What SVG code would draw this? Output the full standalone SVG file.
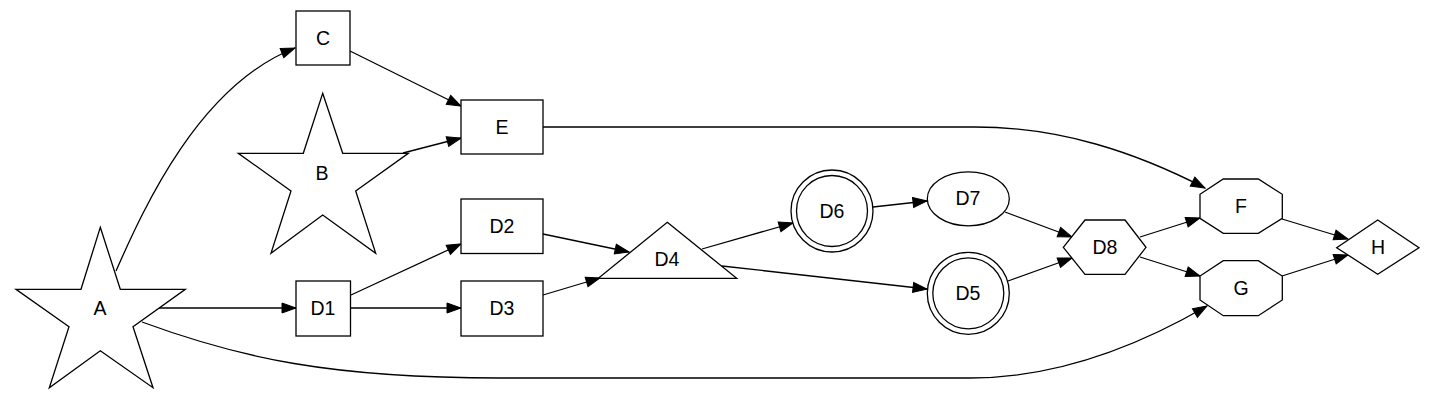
<svg xmlns="http://www.w3.org/2000/svg" width="1436" height="404" viewBox="0 0 1436 404">
<style>
.n{fill:#fff;stroke:#000;stroke-width:1.3}
.t{font-family:"Liberation Sans",Arial,sans-serif;font-size:19.5px;text-anchor:middle;dominant-baseline:central;fill:#000}
.e{fill:none;stroke:#000;stroke-width:1.3;marker-end:url(#ah)}
</style>
<defs>
<marker id="ah" markerUnits="userSpaceOnUse" markerWidth="14" markerHeight="10" refX="14" refY="5" orient="auto" overflow="visible">
<path d="M0,0 L14,5 L0,10 z" fill="#000" stroke="#000" stroke-width="1"/>
</marker>
</defs>
<rect width="1436" height="404" fill="#fff"/>
<g id="edges">
<path class="e" d="M116,271 C145,205 200,85 295,48"/>
<path class="e" d="M350,51 L461,106"/>
<path class="e" d="M403,153 L461,138"/>
<path class="e" d="M543,127 L975,127 C1060,127 1135,152 1205,188"/>
<path class="e" d="M142,322 C240,358 330,378 500,378 L970,378 C1060,378 1140,345 1207,306"/>
<path class="e" d="M158,308 L296,308"/>
<path class="e" d="M351,308 L461,308"/>
<path class="e" d="M351,295 L461,244"/>
<path class="e" d="M543,234 L629,252"/>
<path class="e" d="M543,295 L600,278"/>
<path class="e" d="M702,249 L793,223"/>
<path class="e" d="M722,266 L927,289"/>
<path class="e" d="M873,207 L927,201"/>
<path class="e" d="M1005,212 L1072,237"/>
<path class="e" d="M1008,281 L1072,258"/>
<path class="e" d="M1140,237 L1200,218"/>
<path class="e" d="M1140,257 L1200,276"/>
<path class="e" d="M1282,219 L1348,239"/>
<path class="e" d="M1282,276 L1348,255"/>
</g>
<g id="A"><polygon class="n" points="100.3,227.3 120.3,289.3 185.3,289.3 133,326.7 153,387.7 100.3,350.7 49.3,387.7 69,326.7 16,289.3 81,289.3"/><text class="t" x="100" y="308">A</text></g>
<g id="B"><polygon class="n" points="322.7,93.3 342.7,153.3 408.3,153.3 355.7,191 375.7,253.3 322.7,215 271,253.3 291,191 238.3,153.3 303.3,153.3"/><text class="t" x="322" y="173">B</text></g>
<g id="C"><rect class="n" x="296" y="11" width="54" height="54"/><text class="t" x="323" y="38">C</text></g>
<g id="E"><rect class="n" x="461" y="100" width="82" height="54"/><text class="t" x="502" y="127">E</text></g>
<g id="D1"><rect class="n" x="296" y="281" width="54.5" height="55"/><text class="t" x="323" y="308">D1</text></g>
<g id="D2"><rect class="n" x="461" y="199" width="82" height="54.5"/><text class="t" x="502" y="226">D2</text></g>
<g id="D3"><rect class="n" x="461" y="281" width="82" height="55"/><text class="t" x="502" y="308">D3</text></g>
<g id="D4"><polygon class="n" points="667.3,222.3 736.7,278.3 598.3,278.3"/><text class="t" x="667" y="259">D4</text></g>
<g id="D6"><circle class="n" cx="832" cy="211" r="41"/><circle class="n" cx="832" cy="211" r="35.5"/><text class="t" x="832" y="211">D6</text></g>
<g id="D7"><ellipse class="n" cx="968.3" cy="198.8" rx="41" ry="27"/><text class="t" x="968" y="198">D7</text></g>
<g id="D5"><circle class="n" cx="968.3" cy="293.3" r="41"/><circle class="n" cx="968.3" cy="293.3" r="35.5"/><text class="t" x="968" y="293">D5</text></g>
<g id="D8"><polygon class="n" points="1063.3,247.3 1085,220 1125,220 1146,247.3 1125,274.3 1085,274.3"/><text class="t" x="1105" y="247">D8</text></g>
<g id="F"><polygon class="n" points="1223.3,179 1258.3,179 1282.3,194.3 1282.3,218.3 1258.3,233.3 1223.3,233.3 1200,218.3 1200,194.3"/><text class="t" x="1241" y="206">F</text></g>
<g id="G"><polygon class="n" points="1223.3,260.7 1258.3,260.7 1282.3,276 1282.3,300 1258.3,315.7 1223.3,315.7 1200,300 1200,276"/><text class="t" x="1241" y="288">G</text></g>
<g id="H"><polygon class="n" points="1377.7,220 1419,247.7 1377.7,274.3 1336.7,247.7"/><text class="t" x="1378" y="247">H</text></g>
</svg>
